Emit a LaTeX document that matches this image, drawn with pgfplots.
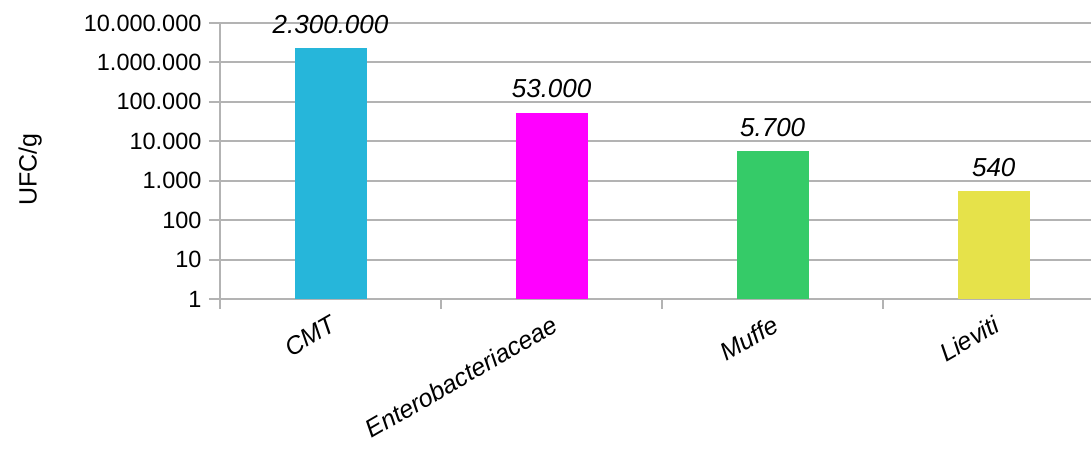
\documentclass[border=0pt]{standalone}
\usepackage{pgfplots}
\pgfplotsset{compat=1.18}
\usepackage{fontspec}
\setmainfont{Liberation Sans}
\definecolor{cCMT}{RGB}{38,182,218}
\definecolor{cEnt}{RGB}{255,0,255}
\definecolor{cMuf}{RGB}{53,203,104}
\definecolor{cLie}{RGB}{230,226,74}
\definecolor{gridgray}{RGB}{179,179,179}
\begin{document}
\begin{tikzpicture}
\begin{axis}[
  at={(0,0)}, anchor=south west,
  scale only axis, width=871pt, height=276pt,
  clip=false,
  ymode=log, ymin=1, ymax=1e7,
  xmin=-0.5, xmax=3.44,
  axis x line=bottom, axis y line=left,
  axis line style={draw=gridgray, line width=2pt, -},
  ymajorgrids, grid style={draw=gridgray, line width=2pt},
  ytick={1,10,100,1000,10000,100000,1000000,10000000},
  yticklabels={1,10,100,1.000,10.000,100.000,1.000.000,10.000.000},
  yminorticks=false,
  tick align=outside, major tick length=11pt,
  tick style={draw=gridgray, line width=2pt},
  xtick={0,1,2,3},
  xticklabels={CMT,Enterobacteriaceae,Muffe,Lieviti},
  xtick style={draw=none},
  extra x ticks={-0.5,0.5,1.5,2.5},
  extra x tick labels={},
  extra x tick style={xtick style={draw=gridgray, line width=2pt}, major tick length=10pt},
  yticklabel style={font=\fontsize{23.5}{27}\selectfont, text=black, xshift=-4pt},
  xticklabel style={font=\itshape\fontsize{25}{30}\selectfont, rotate=30, anchor=north east, text=black},
  ylabel={UFC/g},
  ylabel style={font=\fontsize{25}{30}\selectfont, at={(axis description cs:-0.218,0.47)}, rotate=0, anchor=center},
  nodes near coords style={font=\itshape\fontsize{26}{31}\selectfont, text=black, anchor=south, yshift=11pt},
]
\addplot[ybar, bar width=72pt, bar shift=0pt, fill=cCMT, draw=none, nodes near coords, point meta=explicit symbolic] coordinates {(0,2300000) [2.300.000]};
\addplot[ybar, bar width=72pt, bar shift=0pt, fill=cEnt, draw=none, nodes near coords, point meta=explicit symbolic] coordinates {(1,53000) [53.000]};
\addplot[ybar, bar width=72pt, bar shift=0pt, fill=cMuf, draw=none, nodes near coords, point meta=explicit symbolic] coordinates {(2,5700) [5.700]};
\addplot[ybar, bar width=72pt, bar shift=0pt, fill=cLie, draw=none, nodes near coords, point meta=explicit symbolic] coordinates {(3,540) [540]};
\end{axis}
\pgfresetboundingbox
\path[use as bounding box] (-220pt,-151pt) rectangle (871pt,299pt);
\end{tikzpicture}
\end{document}
